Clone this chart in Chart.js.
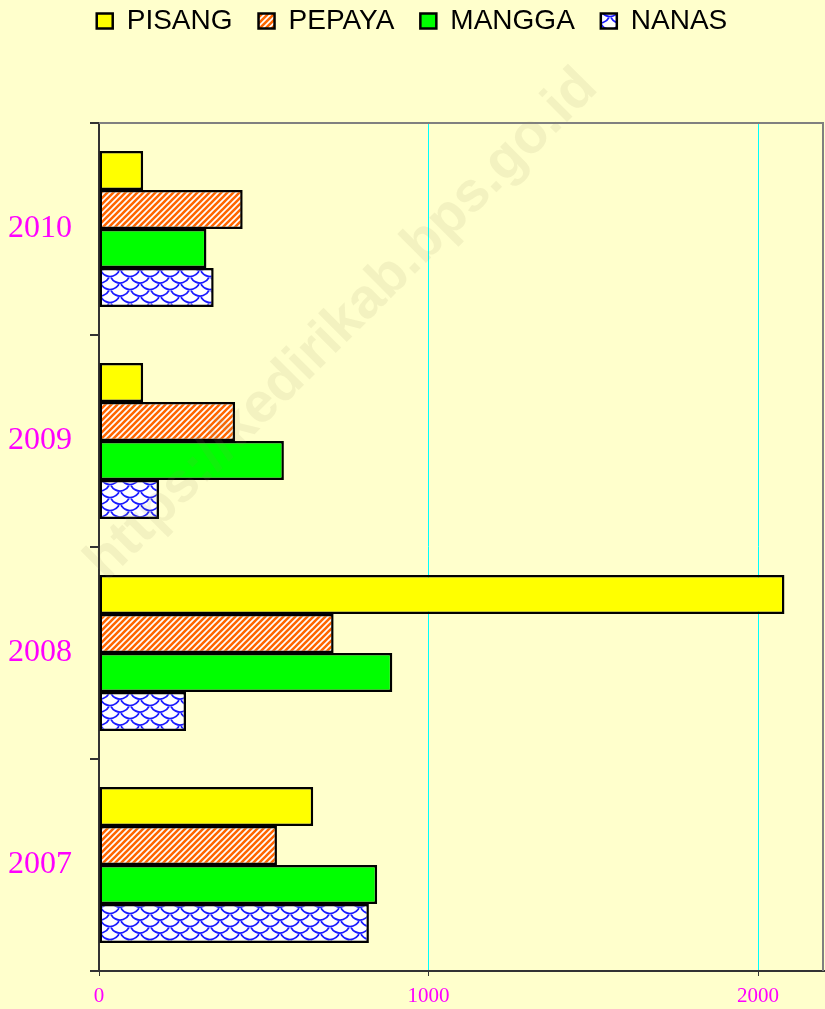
<!DOCTYPE html>
<html>
<head>
<meta charset="utf-8">
<script src="https://cdn.jsdelivr.net/npm/chart.js@4"></script>
<style>
  html, body { margin: 0; padding: 0; background: #ffffcc; }
  #wrap { width: 825px; height: 1009px; position: relative; }
</style>
</head>
<body>
<div id="wrap"><canvas id="chart"></canvas></div>
<script>
const years = ['2010', '2009', '2008', '2007']
const pisang = [134, 134, 2080, 650]
const pepaya = [436, 413, 712, 540]
const mangga = [326, 561, 890, 844]
const nanas = [348, 182, 264, 819]
const xTicks = [0, 1000, 2000]

// orange / white diagonal stripes
function stripePattern() {
  const c = document.createElement('canvas')
  c.width = 6
  c.height = 6
  const g = c.getContext('2d')
  g.fillStyle = '#ffffff'
  g.fillRect(0, 0, 6, 6)
  g.strokeStyle = '#ff6600'
  g.lineWidth = 2.6
  g.beginPath()
  g.moveTo(-1, 7); g.lineTo(7, -1)
  g.moveTo(-4, 4); g.lineTo(4, -4)
  g.moveTo(2, 10); g.lineTo(10, 2)
  g.stroke()
  return g.createPattern(c, 'repeat')
}

// blue scales on white
function scalePattern() {
  const w = 20, h = 13
  const c = document.createElement('canvas')
  c.width = w
  c.height = h
  const g = c.getContext('2d')
  g.fillStyle = '#ffffff'
  g.fillRect(0, 0, w, h)
  g.strokeStyle = '#1a1aff'
  g.lineWidth = 1.8
  const centers = [[0, 0], [w, 0], [w / 2, h / 2], [0, h], [w, h], [w / 2, -h / 2], [w / 2, h * 1.5]]
  centers.forEach(([cx, cy]) => {
    g.beginPath()
    g.arc(cx, cy, w / 2, 0.15 * Math.PI, 0.85 * Math.PI)
    g.stroke()
  })
  return g.createPattern(c, 'repeat')
}

const framePlugin = {
  id: 'frame',
  afterInit(chart) {
    const lg = chart.legend
    if (lg) {
      const fit = lg.fit
      lg.fit = function () {
        fit.call(this)
        this.height = 142
      }
    }
  },
  beforeDraw(chart) {
    const ctx = chart.ctx
    ctx.save()
    ctx.fillStyle = '#ffffcc'
    ctx.fillRect(0, 0, chart.width, chart.height)
    ctx.restore()
  },
  afterDraw(chart) {
    const { ctx, chartArea } = chart
    ctx.save()
    ctx.strokeStyle = '#808080'
    ctx.lineWidth = 2
    ctx.beginPath()
    ctx.moveTo(chartArea.left, chartArea.top)
    ctx.lineTo(chartArea.right - 1, chartArea.top)
    ctx.lineTo(chartArea.right - 1, chartArea.bottom)
    ctx.stroke()
    // watermark
    ctx.translate(342, 325)
    ctx.rotate(-Math.PI / 4)
    ctx.font = 'bold 56px "Liberation Sans", Arial, sans-serif'
    ctx.fillStyle = 'rgba(150, 140, 100, 0.11)'
    ctx.textAlign = 'center'
    ctx.textBaseline = 'middle'
    ctx.fillText('https://kedirikab.bps.go.id', 0, 0)
    ctx.restore()
  },
}

const ctx = document.getElementById('chart').getContext('2d')
Chart.defaults.animation = false

new Chart(ctx, {
  type: 'bar',
  data: {
    labels: years,
    datasets: [
      { label: 'PISANG', data: pisang, backgroundColor: '#ffff00' },
      { label: 'PEPAYA', data: pepaya, backgroundColor: stripePattern() },
      { label: 'MANGGA', data: mangga, backgroundColor: '#00ff00' },
      { label: 'NANAS', data: nanas, backgroundColor: scalePattern() },
    ].map((d) => ({
      ...d,
      borderColor: '#000000',
      borderWidth: 2.5,
      borderSkipped: false,
      categoryPercentage: 0.735,
      barPercentage: 1,
    })),
  },
  options: {
    indexAxis: 'y',
    responsive: true,
    maintainAspectRatio: false,
    layout: { padding: { top: -19, right: 1, left: 0, bottom: 0 } },
    plugins: {
      tooltip: { enabled: false },
      legend: {
        position: 'top',
        labels: {
          color: '#000000',
          font: { family: '"Liberation Sans", Arial, sans-serif', size: 28 },
          boxWidth: 16,
          boxHeight: 15,
          padding: 26,
        },
      },
    },
    scales: {
      x: {
        min: 0,
        max: 2200,
        afterBuildTicks: (s) => {
          s.ticks = xTicks.map((v) => ({ value: v }))
        },
        afterFit: (s) => {
          s.height = 38
        },
        ticks: {
          color: '#ff00ff',
          font: { family: '"Liberation Serif", "Times New Roman", serif', size: 21 },
          padding: 8,
          maxRotation: 0,
          callback: (v) => String(v),
        },
        grid: {
          color: '#00ffff',
          lineWidth: 1,
          tickColor: '#333333',
          tickLength: 5,
        },
        border: { color: '#333333', width: 2 },
      },
      y: {
        afterFit: (s) => {
          s.width = 99
        },
        ticks: {
          color: '#ff00ff',
          font: { family: '"Liberation Serif", "Times New Roman", serif', size: 32 },
          padding: 18,
        },
        grid: {
          offset: true,
          drawOnChartArea: false,
          tickColor: '#333333',
          tickLength: 9,
          lineWidth: 2,
        },
        border: { color: '#333333', width: 2 },
      },
    },
  },
  plugins: [framePlugin],
})
</script>
</body>
</html>
